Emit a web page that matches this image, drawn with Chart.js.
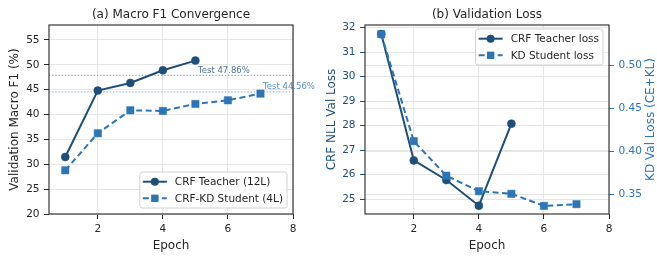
<!DOCTYPE html>
<html>
<head>
<meta charset="utf-8">
<script src="https://cdn.jsdelivr.net/npm/chart.js@4.4.1/dist/chart.umd.min.js"></script>
<style>
  html, body { margin: 0; padding: 0; background: #ffffff; overflow: hidden; }
  #wrap { position: relative; width: 657px; height: 257px; }
  #f1Chart { position: absolute; left: 0; top: 0; width: 330px; height: 257px; }
  #lossChart { position: absolute; left: 322px; top: 0; width: 335px; height: 257px; }
</style>
</head>
<body>
<div id="wrap">
  <canvas id="f1Chart" width="330" height="257"></canvas>
  <canvas id="lossChart" width="335" height="257"></canvas>
</div>
<script>
// values
const epochsTeacher = [1, 2, 3, 4, 5];
const epochsStudent = [1, 2, 3, 4, 5, 6, 7];
const teacherF1 = [31.47, 44.81, 46.35, 48.9, 50.84];
const studentF1 = [28.78, 36.23, 40.85, 40.72, 42.13, 42.86, 44.2];
const testTeacherF1 = 47.86;
const testStudentF1 = 44.56;
const teacherLoss = [31.74, 26.58, 25.78, 24.73, 28.08];
const studentLoss = [0.536, 0.412, 0.372, 0.354, 0.351, 0.337, 0.339];

const epochTicks = [2, 4, 6, 8];
const f1Ticks = [20, 25, 30, 35, 40, 45, 50, 55];
const nllTicks = [25, 26, 27, 28, 29, 30, 31, 32];
const kdTicks = [0.35, 0.40, 0.45, 0.50];
const epochRange = [0.5, 8];
const f1Range = [20, 58];
const nllRange = [24.39, 32.11];
const kdRange = [0.3276, 0.5467];

const TEACHER = '#1f4e79';
const STUDENT = '#2e75b6';
const INK = '#262626';
const GRID = '#e6e6e6';
const FONT = "'DejaVu Sans', sans-serif";
const TICK_SIZE = 10.5;

Chart.defaults.font.family = FONT;
Chart.defaults.color = INK;

const pts = (xs, ys) => xs.map((x, i) => ({ x: x, y: ys[i] }));
const setTicks = (vals) => (scale) => { scale.ticks = vals.map(v => ({ value: v })); };

// matplotlib-ish frame + title over the chart area (+ right axis title, read bottom-to-top)
const framePlugin = {
    id: 'frame',
    afterDraw(chart, args, opts) {
        const { ctx, chartArea: a } = chart;
        ctx.save();
        ctx.strokeStyle = INK;
        ctx.lineWidth = 1.1;
        ctx.strokeRect(a.left, a.top, a.right - a.left, a.bottom - a.top);
        ctx.fillStyle = INK;
        ctx.font = '12px ' + FONT;
        ctx.textAlign = 'center';
        ctx.textBaseline = 'alphabetic';
        ctx.fillText(opts.title, (a.left + a.right) / 2, 18);
        if (opts.rightTitle) {
            ctx.translate(chart.width - 6, (a.top + a.bottom) / 2);
            ctx.rotate(-Math.PI / 2);
            ctx.fillStyle = opts.rightTitle.color;
            ctx.textBaseline = 'middle';
            ctx.fillText(opts.rightTitle.text, 0, 0);
        }
        ctx.restore();
    }
};

// "Test xx.xx%" notes next to the dotted lines
const testLabelPlugin = {
    id: 'testLabels',
    afterDatasetsDraw(chart) {
        const { ctx } = chart;
        ctx.save();
        ctx.font = '8.5px ' + FONT;
        ctx.textAlign = 'left';
        ctx.textBaseline = 'bottom';
        chart.data.datasets.forEach(d => {
            if (!d.testLabel) return;
            const xs = chart.scales.x, ys = chart.scales[d.yAxisID || 'y'];
            ctx.fillStyle = d.labelColor;
            ctx.fillText(d.testLabel, xs.getPixelForValue(d.labelX), ys.getPixelForValue(d.data[0].y) - 0.5);
        });
        ctx.restore();
    }
};

// legend box with line + marker handles
const boxLegendPlugin = {
    id: 'boxLegend',
    afterDraw(chart, args, opts) {
        const { ctx, chartArea: a } = chart;
        const items = chart.data.datasets.filter(d => d.inLegend).sort((p, q) => p.legendIndex - q.legendIndex);
        ctx.save();
        ctx.font = '10.5px ' + FONT;
        const textW = Math.max(...items.map(d => ctx.measureText(d.label).width));
        const padL = 3, handle = 24, gap = 8, padR = 4, row = 16.6, padY = 1.4;
        const w = padL + handle + gap + textW + padR;
        const h = items.length * row + 2 * padY;
        const x = a.right - 6 - w;
        const y = opts.corner === 'lower' ? a.bottom - 6 - h : a.top + 4;

        ctx.beginPath();
        ctx.roundRect(x, y, w, h, 2.5);
        ctx.fillStyle = 'rgba(255,255,255,0.85)';
        ctx.fill();
        ctx.strokeStyle = '#d0d0d0';
        ctx.lineWidth = 1;
        ctx.stroke();

        items.forEach((d, i) => {
            const cy = y + padY + row * (i + 0.5);
            ctx.strokeStyle = d.borderColor;
            ctx.lineWidth = d.borderWidth;
            ctx.setLineDash(d.borderDash || []);
            ctx.beginPath();
            ctx.moveTo(x + padL, cy);
            ctx.lineTo(x + padL + handle, cy);
            ctx.stroke();
            ctx.setLineDash([]);
            const mx = x + padL + handle / 2;
            ctx.fillStyle = d.pointBackgroundColor;
            if (d.pointStyle === 'rect') {
                const s = d.pointRadius * Math.SQRT1_2;
                ctx.fillRect(mx - s, cy - s, 2 * s, 2 * s);
            } else {
                ctx.beginPath();
                ctx.arc(mx, cy, d.pointRadius, 0, Math.PI * 2);
                ctx.fill();
            }
            ctx.fillStyle = INK;
            ctx.textAlign = 'left';
            ctx.textBaseline = 'middle';
            ctx.fillText(d.label, x + padL + handle + gap, cy + 0.5);
        });
        ctx.restore();
    }
};

function lineSet(label, data, color, dashed, yAxisID, order, legendIndex) {
    return {
        label: label,
        data: data,
        yAxisID: yAxisID,
        borderColor: color,
        backgroundColor: color,
        borderWidth: 2,
        borderDash: dashed ? [6, 3.5] : [],
        pointStyle: dashed ? 'rect' : 'circle',
        pointRadius: dashed ? 5.2 : 4,
        pointBackgroundColor: color,
        pointBorderColor: color,
        pointBorderWidth: 0.5,
        tension: 0,
        order: order,
        inLegend: true,
        legendIndex: legendIndex
    };
}

function hlineSet(score, color, labelColor, lastEpoch) {
    return {
        data: [{ x: epochRange[0], y: score }, { x: epochRange[1], y: score }],
        yAxisID: 'y',
        borderColor: color,
        borderWidth: 1.2,
        borderDash: [1.2, 2],
        pointRadius: 0,
        order: 5,
        testLabel: 'Test ' + score.toFixed(2) + '%',
        labelX: lastEpoch + 0.08,
        labelColor: labelColor
    };
}

function xScale() {
    return {
        type: 'linear',
        min: epochRange[0],
        max: epochRange[1],
        afterBuildTicks: setTicks(epochTicks),
        afterFit: (s) => { s.height = 43; },
        border: { display: false },
        grid: { color: GRID, tickColor: INK, tickLength: 5 },
        ticks: { color: INK, font: { size: TICK_SIZE }, padding: 3.5, maxRotation: 0 },
        title: { display: true, text: 'Epoch', color: INK, font: { size: 12, lineHeight: 1 }, padding: { top: 0, bottom: 5 } }
    };
}

const commonOptions = {
    responsive: false,
    animation: false,
    events: [],
    plugins: { legend: { display: false }, tooltip: { enabled: false } }
};

// (a) Macro F1
new Chart(document.getElementById('f1Chart'), {
    type: 'line',
    data: {
        datasets: [
            lineSet('CRF Teacher (12L)', pts(epochsTeacher, teacherF1), TEACHER, false, 'y', 0, 0),
            lineSet('CRF-KD Student (4L)', pts(epochsStudent, studentF1), STUDENT, true, 'y', 1, 1),
            hlineSet(testTeacherF1, 'rgba(46,117,182,0.65)', 'rgba(31,78,121,0.8)', epochsTeacher[epochsTeacher.length - 1]),
            hlineSet(testStudentF1, 'rgba(91,155,213,0.75)', 'rgba(46,117,182,0.8)', epochsStudent[epochsStudent.length - 1])
        ]
    },
    options: {
        ...commonOptions,
        layout: { padding: { top: 25, right: 37, bottom: 0, left: 0 } },
        plugins: { ...commonOptions.plugins, frame: { title: '(a) Macro F1 Convergence' }, boxLegend: { corner: 'lower' } },
        scales: {
            x: xScale(),
            y: {
                type: 'linear',
                position: 'left',
                min: f1Range[0],
                max: f1Range[1],
                afterBuildTicks: setTicks(f1Ticks),
                afterFit: (s) => { s.width = 49; },
                border: { display: false },
                grid: { color: GRID, tickColor: INK, tickLength: 5 },
                ticks: { color: INK, font: { size: TICK_SIZE }, padding: 4.5 },
                title: { display: true, text: 'Validation Macro F1 (%)', color: INK, font: { size: 12, lineHeight: 1 }, padding: { top: 9, bottom: 0 } }
            }
        }
    },
    plugins: [framePlugin, testLabelPlugin, boxLegendPlugin]
});

// (b) Validation loss, two y axes
new Chart(document.getElementById('lossChart'), {
    type: 'line',
    data: {
        datasets: [
            lineSet('CRF Teacher loss', pts(epochsTeacher, teacherLoss), TEACHER, false, 'y', 1, 0),
            lineSet('KD Student loss', pts(epochsStudent, studentLoss), STUDENT, true, 'y2', 0, 1)
        ]
    },
    options: {
        ...commonOptions,
        layout: { padding: { top: 25, right: 0, bottom: 0, left: 0 } },
        plugins: {
            ...commonOptions.plugins,
            frame: { title: '(b) Validation Loss', rightTitle: { text: 'KD Val Loss (CE+KL)', color: STUDENT } },
            boxLegend: { corner: 'upper' }
        },
        scales: {
            x: xScale(),
            y: {
                type: 'linear',
                position: 'left',
                min: nllRange[0],
                max: nllRange[1],
                afterBuildTicks: setTicks(nllTicks),
                afterFit: (s) => { s.width = 43; },
                border: { display: false },
                grid: { color: GRID, tickColor: TEACHER, tickLength: 5 },
                ticks: { color: TEACHER, font: { size: TICK_SIZE }, padding: 4.5 },
                title: { display: true, text: 'CRF NLL Val Loss', color: TEACHER, font: { size: 12, lineHeight: 1 }, padding: { top: 3.8, bottom: 0 } }
            },
            y2: {
                type: 'linear',
                position: 'right',
                min: kdRange[0],
                max: kdRange[1],
                afterBuildTicks: setTicks(kdTicks),
                afterFit: (s) => { s.width = 48; },
                border: { display: false },
                grid: { color: GRID, tickColor: STUDENT, tickLength: 5 },
                ticks: { color: STUDENT, font: { size: TICK_SIZE }, padding: 4.5, callback: (v) => v.toFixed(2) },
                title: { display: false }
            }
        }
    },
    plugins: [framePlugin, testLabelPlugin, boxLegendPlugin]
});
</script>
</body>
</html>
